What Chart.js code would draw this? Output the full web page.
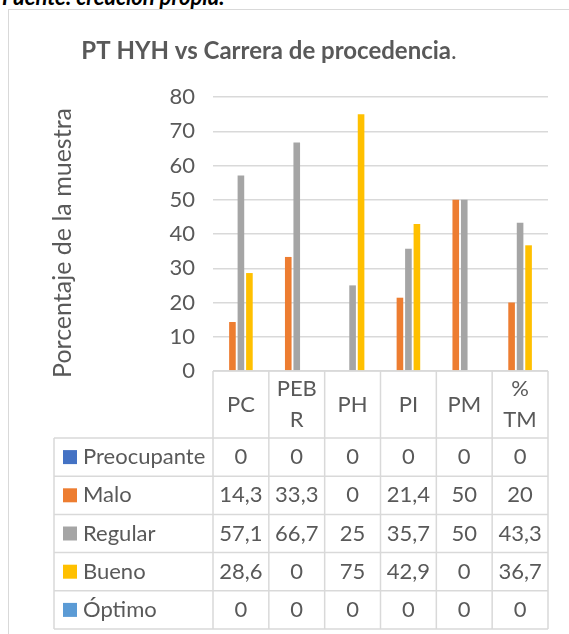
<!DOCTYPE html>
<html><head><meta charset="utf-8">
<script src="https://cdn.jsdelivr.net/npm/chart.js@4.4.1/dist/chart.umd.min.js"></script>
<style>
html,body{margin:0;padding:0;background:#fff;overflow:hidden;}
#wrap{position:relative;width:569px;height:634px;overflow:hidden;}
#frame{position:absolute;left:8px;top:9px;width:700px;height:700px;border:1.5px solid #D9D9D9;box-sizing:border-box;}
#src{position:absolute;left:2px;top:-15px;font:bold italic 22px Lato;color:#000;white-space:nowrap;line-height:24px;}
canvas{position:absolute;left:0;top:0;}
</style></head><body>
<div id="wrap"><div id="src">Fuente: creación propia.</div><div id="frame"></div><canvas id="c" width="569" height="634"></canvas></div>
<script>
const categories = ['PC', ['PEB', 'R'], 'PH', 'PI', 'PM', ['%', 'TM']];
const preocupante = [0, 0, 0, 0, 0, 0];
const malo = [14.3, 33.3, 0, 21.4, 50, 20];
const regular = [57.1, 66.7, 25, 35.7, 50, 43.3];
const bueno = [28.6, 0, 75, 42.9, 0, 36.7];
const optimo = [0, 0, 0, 0, 0, 0];
const seriesNames = ['Preocupante', 'Malo', 'Regular', 'Bueno', 'Óptimo'];
const yMin = 0, yMax = 80, yStep = 10;
const chartTitle = 'PT HYH vs Carrera de procedencia';
const yTitle = 'Porcentaje de la muestra';

const FONT = 'Lato';
const TXT = '#595959';
const GRID = '#D9D9D9';
const colors = ['#4472C4', '#ED7D31', '#A5A5A5', '#FFC000', '#5B9BD5'];
const seriesData = [preocupante, malo, regular, bueno, optimo];

const titlePlugin = {
  id: 'manualTitles',
  afterDraw(chart) {
    const ctx = chart.ctx;
    ctx.save();
    ctx.fillStyle = TXT;
    ctx.textBaseline = 'middle';
    ctx.font = 'bold 24px ' + FONT;
    const w1 = ctx.measureText(chartTitle).width;
    ctx.font = '24px ' + FONT;
    const w2 = ctx.measureText('.').width;
    const x0 = 269 - (w1 + w2) / 2;
    ctx.textAlign = 'left';
    ctx.font = 'bold 24px ' + FONT;
    ctx.fillText(chartTitle, x0, 51);
    ctx.font = '24px ' + FONT;
    ctx.fillText('.', x0 + w1, 51);
    // y axis title
    ctx.translate(63, 243);
    ctx.rotate(-Math.PI / 2);
    ctx.textAlign = 'center';
    ctx.font = '25px ' + FONT;
    ctx.fillText(yTitle, 0, 0);
    ctx.restore();
  }
};

const tablePlugin = {
  id: 'dataTable',
  afterDraw(chart) {
    const {ctx, chartArea: a, scales: {x}} = chart;
    const n = chart.data.labels.length;
    const cw = (a.right - a.left) / n;
    const top = a.bottom, headH = 67, rowH = 38.2, left = 54;
    const ds = chart.data.datasets;
    const bottom = top + headH + rowH * ds.length;
    ctx.save();
    ctx.strokeStyle = GRID; ctx.lineWidth = 1.5;
    ctx.beginPath();
    for (let i = 0; i <= n; i++) {
      const xx = a.left + i * cw;
      ctx.moveTo(xx, top); ctx.lineTo(xx, bottom);
    }
    ctx.moveTo(left, top + headH); ctx.lineTo(left, bottom);
    for (let r = 0; r <= ds.length; r++) {
      const yy = top + headH + r * rowH;
      ctx.moveTo(left, yy); ctx.lineTo(a.right, yy);
    }
    ctx.moveTo(a.left, top); ctx.lineTo(a.right, top);
    ctx.stroke();
    ctx.font = '22px ' + FONT;
    ctx.textBaseline = 'middle';
    ctx.fillStyle = TXT; ctx.textAlign = 'center';
    chart.data.labels.forEach((lab, i) => {
      const lines = Array.isArray(lab) ? lab : [lab];
      const cx = x.getPixelForValue(i);
      const cy = top + headH / 2;
      const lh = 31;
      lines.forEach((t, k) => ctx.fillText(t, cx, cy + (k - (lines.length - 1) / 2) * lh));
    });
    ds.forEach((d, r) => {
      const cy = top + headH + r * rowH + rowH / 2;
      ctx.fillStyle = d.backgroundColor;
      ctx.fillRect(63, cy - 7, 14, 14);
      ctx.fillStyle = TXT;
      ctx.textAlign = 'left';
      ctx.fillText(d.label, 83, cy);
      ctx.textAlign = 'center';
      d.data.forEach((v, i) => ctx.fillText(String(v).replace('.', ','), x.getPixelForValue(i), cy));
    });
    ctx.restore();
  }
};

new Chart(document.getElementById('c'), {
  type: 'bar',
  data: {
    labels: categories,
    datasets: seriesNames.map((name, i) => ({
      label: name,
      data: seriesData[i],
      backgroundColor: colors[i],
      categoryPercentage: 0.76,
      barPercentage: 0.78
    }))
  },
  options: {
    responsive: false,
    animation: false,
    devicePixelRatio: 1,
    layout: {padding: {left: 38, right: 21, top: 97, bottom: 263}},
    plugins: {legend: {display: false}, title: {display: false}, tooltip: {enabled: false}},
    scales: {
      x: {display: false},
      y: {
        min: yMin, max: yMax,
        ticks: {stepSize: yStep, color: TXT, font: {family: FONT, size: 22}, padding: 18},
        grid: {color: GRID, lineWidth: 1.5, drawTicks: false},
        border: {display: false},
        title: {display: false, text: yTitle},
        afterFit(s) { s.width = 213 - 38; }
      }
    }
  },
  plugins: [titlePlugin, tablePlugin]
});
</script>
</body></html>
